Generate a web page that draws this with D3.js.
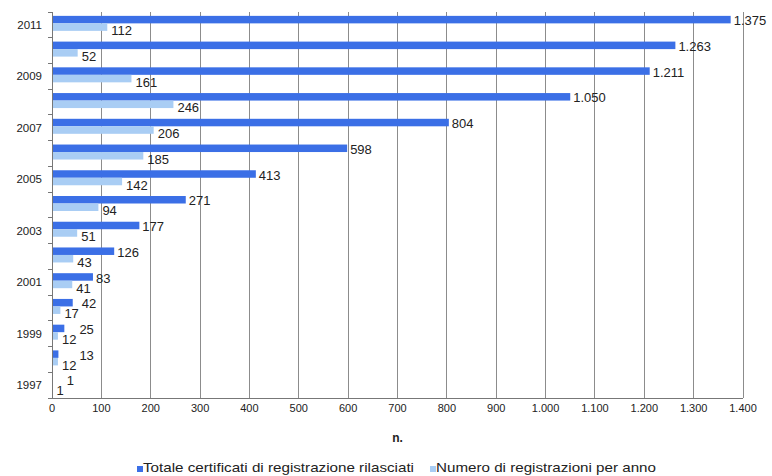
<!DOCTYPE html>
<html>
<head>
<meta charset="utf-8">
<script src="https://cdn.jsdelivr.net/npm/d3@7"></script>
<style>
  body { margin: 0; background: #fff; }
  svg { display: block; font-family: "Liberation Sans", Arial, sans-serif; }
</style>
</head>
<body>
<svg id="chart" width="772" height="476"></svg>
<script>
// Years, newest first (top of the chart)
const years = [2011, 2010, 2009, 2008, 2007, 2006, 2005, 2004, 2003, 2002, 2001, 2000, 1999, 1998, 1997];
// Cumulative certificates issued
const totals = [1375, 1263, 1211, 1050, 804, 598, 413, 271, 177, 126, 83, 42, 25, 13, 1];
// Registrations per year
const perYear = [112, 52, 161, 246, 206, 185, 142, 94, 51, 43, 41, 17, 12, 12, 1];
const xTicks = [0, 100, 200, 300, 400, 500, 600, 700, 800, 900, 1000, 1100, 1200, 1300, 1400];
const labeledYears = [2011, 2009, 2007, 2005, 2003, 2001, 1999, 1997];
const seriesNames = ["Totale certificati di registrazione rilasciati", "Numero di registrazioni per anno"];
const colors = ["#3b6fe6", "#a9cdf4"];

const it = d3.formatLocale({ decimal: ",", thousands: ".", grouping: [3], currency: ["€", ""] });
const fmt = it.format(",d");

const svg = d3.select("#chart");
const m = { left: 52, right: 29, top: 12, bottom: 78 };
const W = 772, H = 476;

const x = d3.scaleLinear().domain([0, 1400]).range([m.left, W - m.right]);
const y = d3.scaleBand().domain(years).range([m.top, H - m.bottom]).paddingInner(0).paddingOuter(0);
const barH = 7.5;

// vertical gridlines
svg.append("g").selectAll("line").data(xTicks.slice(1)).join("line")
  .attr("x1", d => x(d)).attr("x2", d => x(d))
  .attr("y1", m.top).attr("y2", H - m.bottom)
  .attr("stroke", "#8c8c8c").attr("stroke-width", 1).attr("shape-rendering", "crispEdges");

// bars
const rows = years.map((yr, i) => ({ yr, t: totals[i], p: perYear[i] }));
const g = svg.append("g");
const cy = d => y(d.yr) + y.bandwidth() / 2 - 1.5;

g.selectAll("rect.tot").data(rows).join("rect").attr("class", "tot")
  .attr("x", x(0)).attr("y", d => cy(d) - barH)
  .attr("width", d => x(d.t) - x(0)).attr("height", barH)
  .attr("fill", colors[0]);

g.selectAll("rect.per").data(rows).join("rect").attr("class", "per")
  .attr("x", x(0)).attr("y", d => cy(d))
  .attr("width", d => x(d.p) - x(0)).attr("height", barH)
  .attr("fill", colors[1]);

// value labels: yearly counts first, so the totals can sit clear of them
const perLabels = g.selectAll("text.per").data(rows).join("text").attr("class", "per")
  .attr("x", d => x(d.p) + 4).attr("y", d => cy(d) + barH / 2 + 3.5)
  .attr("dy", "0.35em").attr("font-size", 13).attr("fill", "#222")
  .text(d => fmt(d.p));

const perEnd = new Map();
perLabels.each(function (d) { perEnd.set(d.yr, x(d.p) + 4 + this.getComputedTextLength()); });

g.selectAll("text.tot").data(rows).join("text").attr("class", "tot")
  .attr("x", d => Math.max(x(d.t) + 3, perEnd.get(d.yr) + 3))
  .attr("y", d => cy(d) - barH / 2 + 1)
  .attr("dy", "0.35em").attr("font-size", 13).attr("fill", "#222")
  .text(d => fmt(d.t));

// left axis
const yAxis = svg.append("g").attr("transform", `translate(${m.left},0)`);
yAxis.append("line").attr("x1", 0).attr("x2", 0).attr("y1", m.top).attr("y2", H - m.bottom)
  .attr("stroke", "#777").attr("shape-rendering", "crispEdges");
yAxis.selectAll("line.tk").data(d3.range(years.length + 1)).join("line").attr("class", "tk")
  .attr("x1", -4).attr("x2", 0)
  .attr("y1", i => m.top + i * y.step()).attr("y2", i => m.top + i * y.step())
  .attr("stroke", "#777").attr("shape-rendering", "crispEdges");
yAxis.selectAll("text").data(labeledYears).join("text")
  .attr("x", -10).attr("y", d => y(d) + y.bandwidth() / 2)
  .attr("dy", "0.35em").attr("text-anchor", "end").attr("font-size", 11.5).attr("fill", "#222")
  .text(d => d);

// bottom axis
const xAxis = svg.append("g");
xAxis.append("line").attr("x1", m.left - 4).attr("x2", W - m.right)
  .attr("y1", H - m.bottom).attr("y2", H - m.bottom)
  .attr("stroke", "#777").attr("shape-rendering", "crispEdges");
xAxis.selectAll("text").data(xTicks).join("text")
  .attr("x", d => x(d)).attr("y", H - m.bottom + 14)
  .attr("text-anchor", "middle").attr("font-size", 11).attr("fill", "#222")
  .text(d => fmt(d));

svg.append("text").attr("x", (x(0) + x(1400)) / 2).attr("y", 442)
  .attr("text-anchor", "middle").attr("font-size", 12).attr("font-weight", "bold").attr("fill", "#222")
  .text("n.");

// legend
const legend = svg.append("g");
const legendX = [137, 430];
const legendW = [271, 220];
seriesNames.forEach((name, i) => {
  legend.append("rect").attr("x", legendX[i]).attr("y", 466).attr("width", 6).attr("height", 6).attr("fill", colors[i]);
  legend.append("text").attr("x", legendX[i] + 6).attr("y", 472)
    .attr("font-size", 13).attr("fill", "#222")
    .attr("textLength", legendW[i]).attr("lengthAdjust", "spacingAndGlyphs")
    .text(name);
});
</script>
</body>
</html>
